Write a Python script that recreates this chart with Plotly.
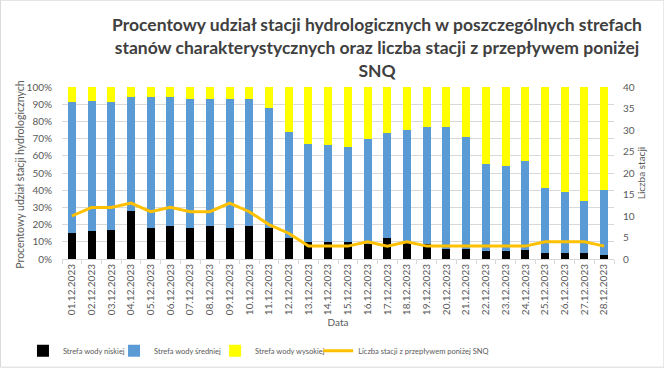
import plotly.graph_objects as go

dates = [f"{d:02d}.12.2023" for d in range(1, 32)]

# Percentage shares (%) for days 01.12-28.12 (no data for 29-31)
strefa_niska = [15, 16, 17, 28, 18, 19, 18, 19, 18, 19, 18, 12, 10, 10, 10, 9,
                12, 10, 9, 6, 6, 4.5, 4.5, 5.5, 3.5, 3.5, 3.5, 2.5]
strefa_srednia = [76, 76, 74, 66, 76, 75, 75, 74, 75, 74, 70, 62, 57, 56, 55, 61,
                  61, 65, 68, 71, 65, 50.5, 49.5, 51.5, 37.5, 35.5, 30.5, 37.5]
strefa_wysoka = [9, 8, 9, 6, 6, 6, 7, 7, 7, 7, 12, 26, 33, 34, 35, 30,
                 27, 25, 23, 23, 29, 45, 46, 43, 59, 61, 66, 60]
liczba_snq = [10, 12, 12, 13, 11, 12, 11, 11, 13, 11, 8, 6, 3, 3, 3, 4,
              3, 4, 3, 3, 3, 3, 3, 3, 4, 4, 4, 3]

FONT = "Lato"
GRAY = "#595959"
GRID = "#d9d9d9"

L, R, T, B = 62, 50.4, 87.3, 108.7
W, H = 664, 368
pw, ph = W - L - R, H - T - B

def px_x(p):
    return (p - L) / pw

def px_y(p):
    return (T + ph - p) / ph

fig = go.Figure()
fig.add_trace(go.Bar(x=dates, y=strefa_niska, name="Strefa wody niskiej", legend="legend",
                     showlegend=True, marker=dict(color="#000000", line=dict(width=0))))
fig.add_trace(go.Bar(x=dates, y=strefa_srednia, name="Strefa wody średniej", legend="legend2",
                     showlegend=True, marker=dict(color="#5b9bd5", line=dict(width=0))))
fig.add_trace(go.Bar(x=dates, y=strefa_wysoka, name="Strefa wody wysokiej", legend="legend3",
                     showlegend=True, marker=dict(color="#ffff00", line=dict(width=0))))
fig.add_trace(go.Scatter(x=dates[:len(liczba_snq)], y=liczba_snq, yaxis="y2", legend="legend4",
                         showlegend=True, mode="lines",
                         name="Liczba stacji z przepływem poniżej SNQ",
                         line=dict(color="#ffc000", width=3)))

legend_x_px = [23, 114, 215, 318]
leg_common = dict(orientation="h", xanchor="left", yanchor="middle",
                  y=px_y(351), font=dict(size=7.5, color=GRAY, family=FONT),
                  bgcolor="rgba(0,0,0,0)", borderwidth=0)

fig.update_layout(
    width=W, height=H, autosize=False, showlegend=True,
    margin=dict(l=L, r=R, t=T, b=B, pad=0, autoexpand=False),
    paper_bgcolor="white", plot_bgcolor="white",
    barmode="stack", bargap=0.6,
    font=dict(family=FONT, color=GRAY, size=10),
    title=dict(
        text="<b>Procentowy udział stacji hydrologicznych w poszczególnych strefach<br>"
             "stanów charakterystycznych oraz liczba stacji z przepływem poniżej<br>SNQ</b>",
        x=377 / W, xref="container", xanchor="center",
        y=1 - 31 / H, yref="container", yanchor="top",
        font=dict(family=FONT, size=17.5, color="#404040"),
    ),
    xaxis=dict(
        type="category", tickangle=-90, tickson="boundaries", automargin=False,
        ticks="outside", ticklen=4, tickcolor=GRID,
        showline=True, linecolor=GRID, linewidth=1,
        showgrid=False, tickfont=dict(size=10, color=GRAY),
        title=dict(text="Data", font=dict(size=10, color=GRAY), standoff=4),
    ),
    yaxis=dict(
        range=[0, 100], dtick=10, ticksuffix="%", automargin=False,
        showgrid=True, gridcolor=GRID, gridwidth=1,
        zeroline=False, showline=False, ticks="", ticklabelstandoff=9,
        tickfont=dict(size=10, color=GRAY),
    ),
    yaxis2=dict(
        range=[0, 40], dtick=5, overlaying="y", side="right", automargin=False,
        showgrid=False, zeroline=False, showline=False, ticks="", ticklabelstandoff=8,
        tickfont=dict(size=10, color=GRAY),
        title=dict(text="Liczba stacji", font=dict(size=10, color=GRAY), standoff=2),
    ),
    legend=dict(x=px_x(legend_x_px[0]), **leg_common),
    legend2=dict(x=px_x(legend_x_px[1]), **leg_common),
    legend3=dict(x=px_x(legend_x_px[2]), **leg_common),
    legend4=dict(x=px_x(legend_x_px[3]), **leg_common),
    annotations=[dict(text="Procentowy udział stacji hydrologicznych",
                      xref="paper", yref="paper", x=px_x(20), y=px_y(175),
                      xanchor="center", yanchor="middle", textangle=-90,
                      showarrow=False, font=dict(size=10.5, color=GRAY, family=FONT))],
    shapes=[dict(type="rect", xref="paper", yref="paper",
                 x0=px_x(0.5), x1=px_x(W - 0.5),
                 y0=px_y(H - 0.5), y1=px_y(0.5),
                 line=dict(color=GRID, width=1), fillcolor="rgba(0,0,0,0)", layer="below")],
)

fig.write_html("out.html", config={"displayModeBar": False},
               post_script="document.body.style.margin='0';document.body.style.overflow='hidden';")
